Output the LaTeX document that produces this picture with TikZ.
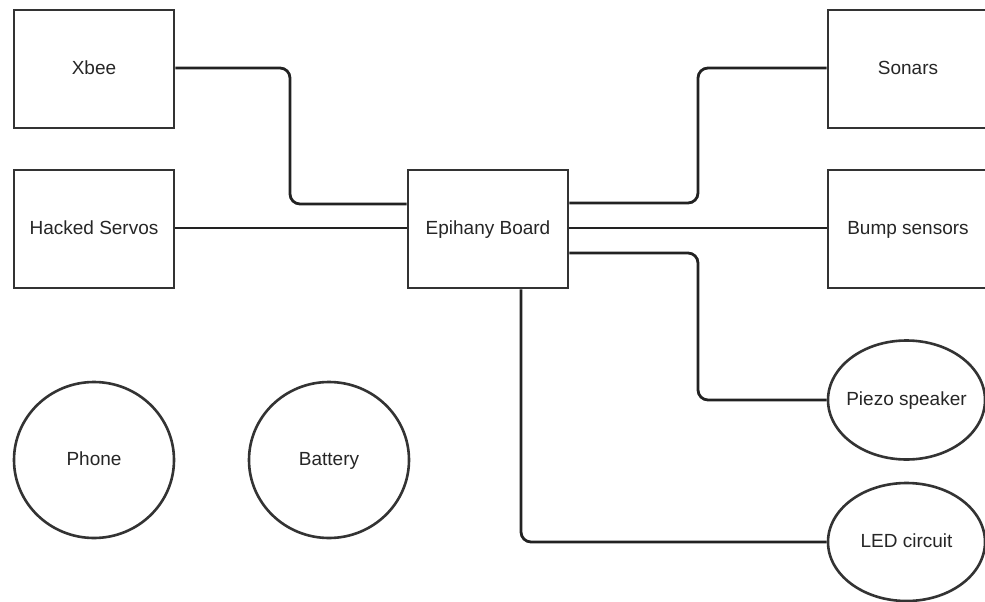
\documentclass[tikz,border=0pt]{standalone}
\usepackage{fontspec}
\setmainfont{Liberation Sans}
\usetikzlibrary{shapes.geometric}
\definecolor{edge}{HTML}{333333}
\definecolor{wire}{HTML}{222222}
\tikzset{
  lbl/.style={font=\fontsize{19}{20}\selectfont, text=black!85, text height=13.6pt, text depth=2pt},
  box/.style={draw=edge, line width=2.6pt, rectangle, minimum width=160pt, minimum height=118pt, inner sep=0pt, lbl},
  oval/.style={draw=edge, line width=2.6pt, ellipse, inner sep=0pt, label={[lbl]center:#1}},
  wirestyle/.style={draw=wire, line width=2.8pt, rounded corners=10pt}
}
\begin{document}
\begin{tikzpicture}[x=1pt,y=-1pt]
\useasboundingbox (0,0) rectangle (985,602);
\fill[white] (0,0) rectangle (985,602);
\clip (0,0) rectangle (985,602);
\node[box] (xbee) at (94,69) {Xbee};
\node[box] (servos) at (94,229) {Hacked Servos};
\node[box] (epi) at (488,229) {Epihany Board};
\node[box] (sonars) at (908,69) {Sonars};
\node[box] (bump) at (908,229) {Bump sensors};
\node[oval=Piezo speaker, minimum width=157pt, minimum height=119pt] (piezo) at (906.5,400) {};
\node[oval=LED circuit, minimum width=157pt, minimum height=118pt] (led) at (906.5,542) {};
\node[oval=Phone, minimum width=160pt, minimum height=156pt] (phone) at (94,460) {};
\node[oval=Battery, minimum width=160pt, minimum height=156pt] (battery) at (329,460) {};
\coordinate (a1) at (290,204);
\coordinate (a2) at (698,68);
\coordinate (a3) at (698,400);
\coordinate (a4) at (521,542);
\draw[wirestyle] (xbee.east |- 0,68) -| (a1) -- (a1 -| epi.west);
\draw[wirestyle] (servos.east |- 0,228) -- (epi.west |- 0,228);
\draw[wirestyle] (epi.east |- 0,203) -| (a2) -- (sonars.west |- a2);
\draw[wirestyle] (epi.east |- 0,228) -- (bump.west |- 0,228);
\draw[wirestyle] (epi.east |- 0,253) -| (a3) -- (piezo.west);
\draw[wirestyle] (a4 |- epi.south) |- (led.west);
\end{tikzpicture}
\end{document}
